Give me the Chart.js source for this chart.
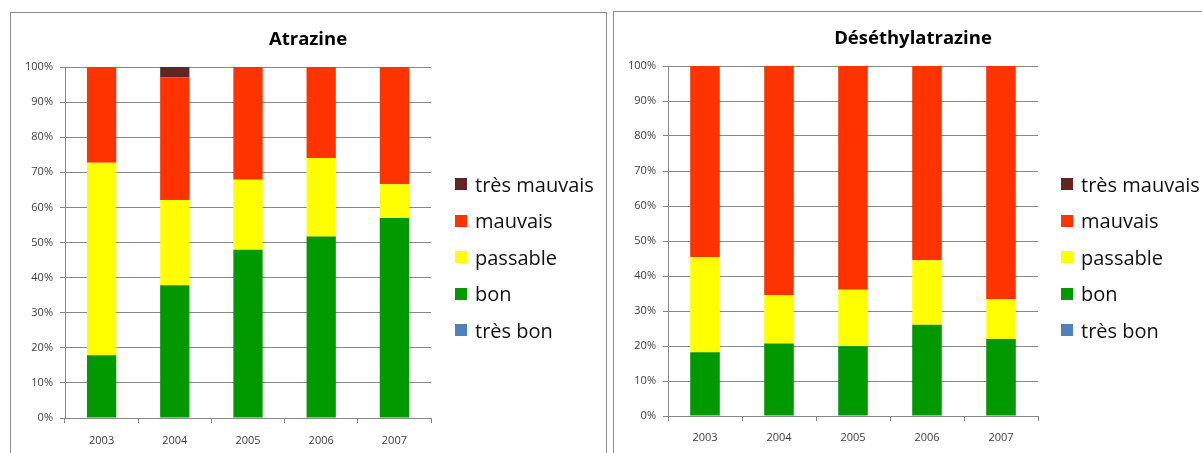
<!DOCTYPE html>
<html lang="fr">
<head>
<meta charset="utf-8">
<title>Atrazine / Déséthylatrazine</title>
<script src="https://cdn.jsdelivr.net/npm/chart.js@4/dist/chart.umd.min.js"></script>
<style>
  html, body { margin:0; padding:0; background:#fff; overflow:hidden; }
  body { width:1202px; height:453px; position:relative; font-family:"Open Sans", "DejaVu Sans", sans-serif; }
  .panel { position:absolute; border:1px solid #8c8c8c; background:#fff; }
  #panelA { left:10px; top:12px; width:595px; height:460px; }
  #panelB { left:613px; top:11px; width:600px; height:460px; }
  canvas { position:absolute; }
  #chartA { left:11px; top:13px; }
  #chartB { left:614px; top:12px; }
  .title { position:absolute; font-weight:bold; font-size:18.5px; color:#000; transform:translate(-50%,-50%); white-space:nowrap; }
  #titleA { left:308px; top:37px; }
  #titleB { left:913px; top:36px; }
  .legend { position:absolute; list-style:none; margin:0; padding:0; }
  .legend li { height:36.5px; display:flex; align-items:center; font-size:20px; color:#111; white-space:nowrap; }
  .legend li span { display:inline-block; width:12px; height:12px; margin-right:8px; }
  #legendA { left:455px; top:166px; }
  #legendB { left:1061px; top:166px; }
</style>
</head>
<body>
<div class="panel" id="panelA"></div>
<div class="panel" id="panelB"></div>
<canvas id="chartA" width="594" height="440"></canvas>
<canvas id="chartB" width="588" height="441"></canvas>
<div class="title" id="titleA">Atrazine</div>
<div class="title" id="titleB">Déséthylatrazine</div>
<ul class="legend" id="legendA"></ul>
<ul class="legend" id="legendB"></ul>

<script>
// ---- data (percent of stations per class) ----
const years = ["2003", "2004", "2005", "2006", "2007"];
const yTicks = [0, 10, 20, 30, 40, 50, 60, 70, 80, 90, 100];

const classNames = ["très bon", "bon", "passable", "mauvais", "très mauvais"];
const classColors = ["#4f81bd", "#009a00", "#ffff00", "#ff3300", "#632523"];

// Atrazine
const atrTresBon     = [0, 0, 0, 0, 0];
const atrBon         = [17.9, 37.8, 47.9, 51.7, 57.0];
const atrPassable    = [54.8, 24.3, 20.0, 22.4, 9.6];
const atrMauvais     = [27.3, 34.9, 32.1, 25.9, 33.4];
const atrTresMauvais = [0, 3.0, 0, 0, 0];

// Déséthylatrazine
const deaTresBon     = [0, 0, 0, 0, 0];
const deaBon         = [18.2, 20.7, 19.9, 26.1, 22.0];
const deaPassable    = [27.2, 13.8, 16.2, 18.4, 11.4];
const deaMauvais     = [54.6, 65.5, 63.9, 55.5, 66.6];
const deaTresMauvais = [0, 0, 0, 0, 0];

const GRID = "#878787";
const TXT = "#404040";

function makeChart(canvasId, legendId, series, box){
  const ctx = document.getElementById(canvasId);
  const chart = new Chart(ctx, {
    type: "bar",
    data: {
      labels: years,
      datasets: series.map((vals, i) => ({
        label: classNames[i],
        data: vals,
        backgroundColor: classColors[i],
        borderWidth: 0,
        barPercentage: 0.4,
        categoryPercentage: 1
      }))
    },
    options: {
      responsive: false,
      animation: false,
      layout: { padding: { left: 0, top: box.top, right: box.right, bottom: 0 } },
      plugins: { legend: { display: false }, title: { display: false }, tooltip: { enabled: false } },
      scales: {
        x: {
          stacked: true,
          grid: { display: true, drawOnChartArea: false, drawTicks: true, tickLength: 5, color: GRID, offset: true },
          border: { display: true, color: GRID },
          ticks: { color: TXT, font: { family: "Open Sans", size: 11 }, padding: box.xpad, maxRotation: 0 },
          afterFit: s => { s.height = box.xh; }
        },
        y: {
          stacked: true,
          min: 0, max: 100,
          afterBuildTicks: s => { s.ticks = yTicks.map(v => ({ value: v })); },
          grid: { color: GRID, tickLength: 5, drawTicks: true },
          border: { display: true, color: GRID },
          ticks: { color: TXT, font: { family: "Open Sans", size: 11 }, padding: 7, callback: v => v + "%" },
          afterFit: s => { s.width = 54; }
        }
      }
    }
  });

  // HTML legend, built from the chart's own legend items (top class first)
  const ul = document.getElementById(legendId);
  const items = Chart.defaults.plugins.legend.labels.generateLabels(chart).reverse();
  items.forEach(it => {
    const li = document.createElement("li");
    const sw = document.createElement("span");
    sw.style.background = it.fillStyle;
    li.appendChild(sw);
    li.appendChild(document.createTextNode(it.text));
    ul.appendChild(li);
  });
  return chart;
}

makeChart("chartA", "legendA",
  [atrTresBon, atrBon, atrPassable, atrMauvais, atrTresMauvais],
  { top: 54, right: 174, xh: 35, xpad: 11 });

makeChart("chartB", "legendB",
  [deaTresBon, deaBon, deaPassable, deaMauvais, deaTresMauvais],
  { top: 54, right: 164, xh: 37, xpad: 10 });
</script>
</body>
</html>
